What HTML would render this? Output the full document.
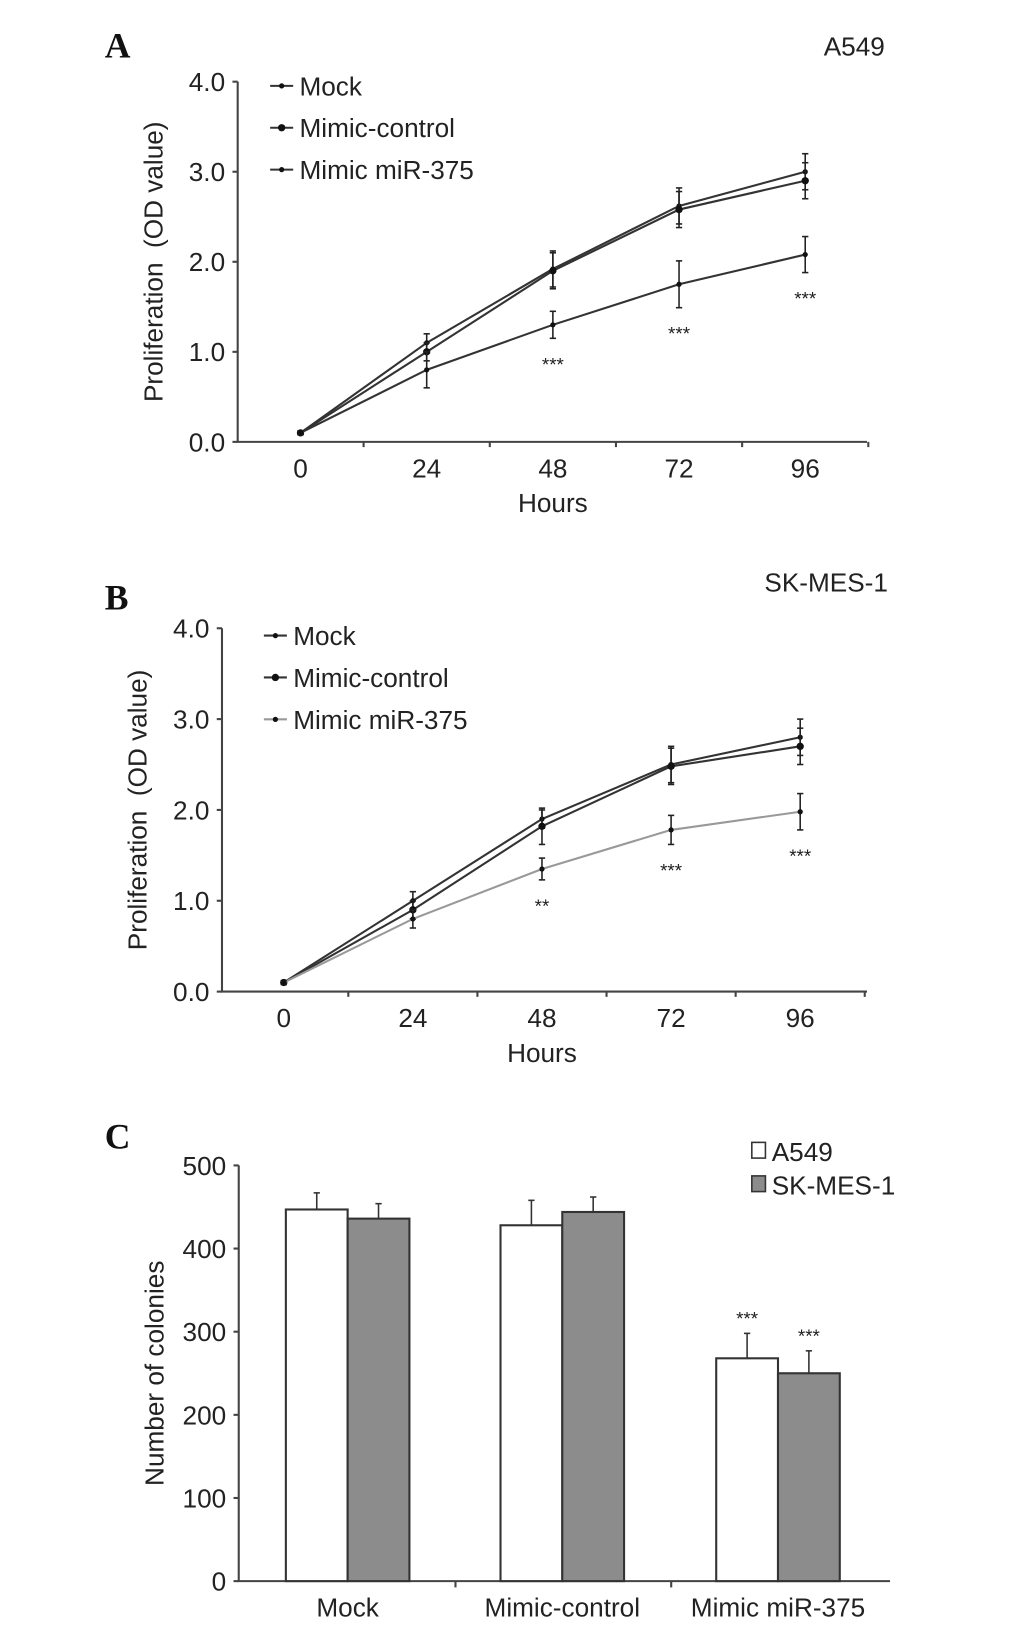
<!DOCTYPE html>
<html><head><meta charset="utf-8"><style>
body{margin:0;background:#fff;width:1033px;height:1640px;overflow:hidden}
svg{display:block}
text{font-family:"Liberation Sans",sans-serif;fill:#222}
.pl{font-family:"Liberation Serif",serif;font-weight:bold;font-size:34px;fill:#111}
</style></head><body>
<svg id="fig" width="1033" height="1640" viewBox="0 0 1033 1640">
<g transform="scale(1.0471)">
<text class="pl" x="100" y="55">A</text>
<text x="845" y="53" font-size="25" text-anchor="end">A549</text>
<text class="pl" x="100" y="582">B</text>
<text x="848" y="565" font-size="25" text-anchor="end">SK-MES-1</text>
<text class="pl" x="100" y="1097">C</text>
<g id="pa"></g>
<g id="pb"></g>
<g id="pc"></g>
</g>
</svg>
<script>
const hours = ["0","24","48","72","96"];
const yTicksOD = ["0.0","1.0","2.0","3.0","4.0"];
const seriesNames = ["Mock","Mimic-control","Mimic miR-375"];
const aMock = [0.1,1.1,1.92,2.62,3.0];
const aCtrl = [0.1,1.0,1.9,2.58,2.9];
const aMir = [0.1,0.8,1.3,1.75,2.08];
const aMockErr = [0.02,0.1,0.2,0.2,0.2];
const aCtrlErr = [0.02,0.1,0.2,0.2,0.2];
const aMirErr = [0.02,0.2,0.15,0.26,0.2];
const aStars = ["","","***","***","***"];
const bMock = [0.1,1.0,1.9,2.5,2.8];
const bCtrl = [0.1,0.9,1.82,2.48,2.7];
const bMir = [0.1,0.8,1.35,1.78,1.98];
const bMockErr = [0.02,0.1,0.1,0.2,0.2];
const bCtrlErr = [0.02,0.1,0.2,0.2,0.2];
const bMirErr = [0.02,0.1,0.12,0.16,0.2];
const bStars = ["","","**","***","***"];
const cCategories = ["Mock","Mimic-control","Mimic miR-375"];
const cA549 = [447,428,268];
const cSK = [436,444,250];
const cA549Err = [20,30,30];
const cSKErr = [18,18,27];
const cStarsA = ["","","***"];
const cStarsS = ["","","***"];
const cTicks = ["0","100","200","300","400","500"];

const NS="http://www.w3.org/2000/svg";
function mk(p,tag,at,txt){const e=document.createElementNS(NS,tag);for(const k in at)e.setAttribute(k,at[k]);if(txt!==undefined)e.textContent=txt;p.appendChild(e);return e;}

function lineChart(g,o,series,errs,stars,colors){
  const ys=v=>o.y0-(v/4)*(o.y0-o.y4);
  const xs=i=>o.x0+i*o.dx;
  const ax=mk(g,'path',{d:`M${o.ax} ${o.y4}V${o.y0}H${o.xend}`,stroke:'#444','stroke-width':2,fill:'none'});
  
  
  yTicksOD.forEach((t,i)=>{const y=ys(parseFloat(t));
    mk(g,'line',{x1:o.ax-5,x2:o.ax,y1:y,y2:y,stroke:'#444','stroke-width':2});
    const tx=mk(g,'text',{x:o.ax-12,y:y+9,'font-size':25,'text-anchor':'end'},t);
    
    });
  hours.forEach((h,i)=>{
    mk(g,'line',{x1:xs(i)+o.dx/2,x2:xs(i)+o.dx/2,y1:o.y0,y2:o.y0+5,stroke:'#444','stroke-width':2});
    const tx=mk(g,'text',{x:xs(i),y:o.y0+34,'font-size':25,'text-anchor':'middle'},h);
    
    });
  const xt=mk(g,'text',{x:xs(2),y:o.y0+67,'font-size':25,'text-anchor':'middle'},'Hours');
  
  
  const cy=(o.y0+o.y4)/2;
  const yt=mk(g,'text',{x:0,y:0,'font-size':25,'text-anchor':'middle',transform:`translate(${o.ax-72},${cy}) rotate(-90)`},'Proliferation\u00a0 (OD value)');
  
  
  series.forEach((s,k)=>{
    const pl=mk(g,'polyline',{points:s.map((v,i)=>xs(i)+','+ys(v)).join(' '),fill:'none',stroke:colors[k],'stroke-width':2});
    
    
    s.forEach((v,i)=>{const x=xs(i),e=errs[k][i];
      mk(g,'line',{x1:x,x2:x,y1:ys(v-e),y2:ys(v+e),stroke:'#222','stroke-width':1.5});
      mk(g,'line',{x1:x-3,x2:x+3,y1:ys(v-e),y2:ys(v-e),stroke:'#222','stroke-width':1.5});
      mk(g,'line',{x1:x-3,x2:x+3,y1:ys(v+e),y2:ys(v+e),stroke:'#222','stroke-width':1.5});
      const m=mk(g,'circle',{cx:x,cy:ys(v),r:k==1?3.5:2.5,fill:'#111'});
      
      });
  });
  stars.forEach((s,i)=>{if(!s)return;const v=series[2][i]-errs[2][i];
    const t=mk(g,'text',{x:xs(i),y:ys(v)+31,'font-size':18,'text-anchor':'middle',fill:'#555'},s);
    
    });
  seriesNames.forEach((n,k)=>{const y=o.ly+k*o.lgap;
    mk(g,'line',{x1:o.lx,x2:o.lx+22,y1:y,y2:y,stroke:colors[k],'stroke-width':2});
    mk(g,'circle',{cx:o.lx+11,cy:y,r:k==1?3.5:2.5,fill:'#111'});
    const t=mk(g,'text',{x:o.lx+28,y:y+9,'font-size':25},n);
    
    });
}
lineChart(document.getElementById('pa'),{ax:227,x0:287,dx:120.5,xend:828,y0:422,y4:78,lx:258,ly:82,lgap:40},[aMock,aCtrl,aMir],[aMockErr,aCtrlErr,aMirErr],aStars,['#333','#333','#333']);
lineChart(document.getElementById('pb'),{ax:212,x0:271,dx:123.3,xend:828,y0:947,y4:600,lx:252,ly:607,lgap:40},[bMock,bCtrl,bMir],[bMockErr,bCtrlErr,bMirErr],bStars,['#333','#333','#999']);

(function(){
  const g=document.getElementById('pc');
  const ax=228,y0=1510,y500=1113,xend=850;
  const ys=v=>y0-v/500*(y0-y500);
  const groupX=[332,537,743],bw=59;
  const a=mk(g,'path',{d:`M${ax} ${y500}V${y0}H${xend}`,stroke:'#444','stroke-width':2,fill:'none'});
  
  
  cTicks.forEach(t=>{const y=ys(+t);
    mk(g,'line',{x1:ax-5,x2:ax,y1:y,y2:y,stroke:'#444','stroke-width':2});
    const tx=mk(g,'text',{x:ax-12,y:y+9,'font-size':25,'text-anchor':'end'},t);
    
    });
  [435,641].forEach(x=>mk(g,'line',{x1:x,x2:x,y1:y0,y2:y0+6,stroke:'#444','stroke-width':2}));
  const yt=mk(g,'text',{x:0,y:0,'font-size':25,'text-anchor':'middle',transform:`translate(156,${(y0+y500)/2}) rotate(-90)`},'Number of colonies');
  
  
  cCategories.forEach((c,i)=>{const gx=groupX[i];
    const b1=mk(g,'rect',{x:gx-bw,y:ys(cA549[i]),width:bw,height:y0-ys(cA549[i]),fill:'#fff',stroke:'#333','stroke-width':2});
    
    
    const b2=mk(g,'rect',{x:gx,y:ys(cSK[i]),width:bw,height:y0-ys(cSK[i]),fill:'#8c8c8c',stroke:'#333','stroke-width':2});
    
    
    [[gx-bw/2,cA549[i],cA549Err[i],cStarsA[i]],[gx+bw/2,cSK[i],cSKErr[i],cStarsS[i]]].forEach(([x,v,e,s])=>{
      mk(g,'line',{x1:x,x2:x,y1:ys(v),y2:ys(v+e),stroke:'#333','stroke-width':1.5});
      mk(g,'line',{x1:x-3,x2:x+3,y1:ys(v+e),y2:ys(v+e),stroke:'#333','stroke-width':1.5});
      if(s){const t=mk(g,'text',{x:x,y:ys(v+e)-8,'font-size':18,'text-anchor':'middle',fill:'#555'},s);
        
        }
    });
    const tx=mk(g,'text',{x:gx,y:y0+34,'font-size':25,'text-anchor':'middle'},c);
    
    
  });
  [['A549','#fff',1100],['SK-MES-1','#8c8c8c',1132]].forEach(([n,f,y])=>{
    mk(g,'rect',{x:718,y:y-9,width:13,height:15,fill:f,stroke:'#333','stroke-width':1.5});
    const t=mk(g,'text',{x:737,y:y+9,'font-size':25},n);
    
    });
})();
</script>
</body></html>
